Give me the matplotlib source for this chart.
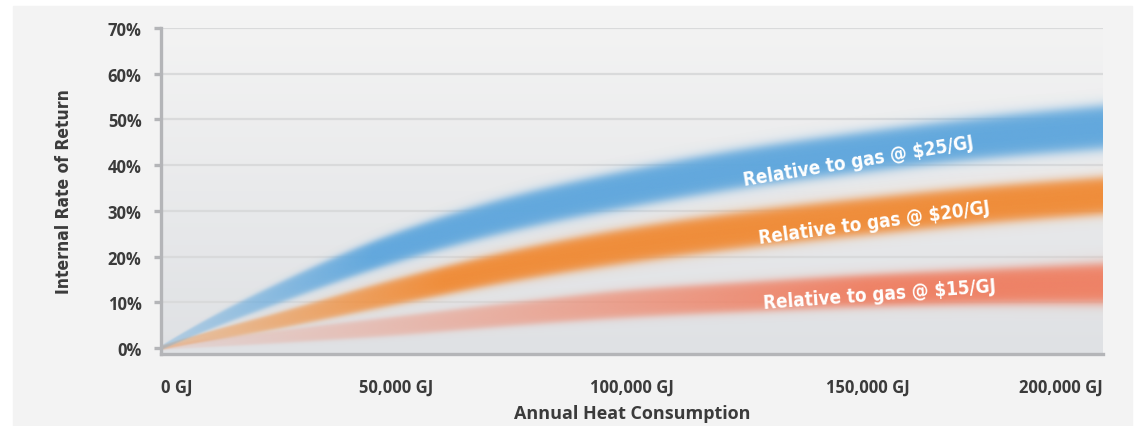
import numpy as np
import matplotlib
matplotlib.use("Agg")
import matplotlib.pyplot as plt
from matplotlib.colors import to_rgb
from matplotlib.patches import Rectangle

# annual heat consumption (GJ) and IRR (%) for each gas price
heat_gj = [0, 25000, 50000, 75000, 100000, 125000, 150000, 175000, 200000]
irr_gas_25 = [0, 12.0, 22.0, 29.5, 35.0, 39.5, 43.0, 46.0, 48.3]
irr_gas_20 = [0, 6.0, 12.3, 18.0, 22.5, 26.0, 28.8, 31.3, 33.3]
irr_gas_15 = [0, 2.4, 4.8, 7.4, 9.7, 11.2, 12.5, 13.4, 14.1]

# uncertainty spread of each band (% points, full width)
spread_25 = [1.0, 4.8, 7.0, 8.2, 8.8, 9.2, 9.5, 9.8, 10.2]
spread_20 = [1.0, 3.8, 6.0, 7.3, 8.2, 8.6, 8.7, 8.7, 8.7]
spread_15 = [1.0, 3.0, 4.5, 5.5, 6.5, 7.0, 7.5, 8.2, 9.4]

band_labels = ["Relative to gas @ $25/GJ", "Relative to gas @ $20/GJ",
               "Relative to gas @ $15/GJ"]
y_ticks = [0, 10, 20, 30, 40, 50, 60, 70]
x_ticks = [0, 50000, 100000, 150000, 200000]
x_tick_labels = ["0 GJ", "50,000 GJ", "100,000 GJ", "150,000 GJ", "200,000 GJ"]

YMIN, YMAX = -1.3, 70
TEXT = "#3b3b3b"
AXIS_GRAY = "#b4b5b8"


def pchip(x, y, xn):
    # monotone cubic hermite interpolation
    x = np.asarray(x, float)
    y = np.asarray(y, float)
    h = np.diff(x)
    delta = np.diff(y) / h
    m = np.zeros_like(y)
    for k in range(1, len(x) - 1):
        if delta[k - 1] * delta[k] > 0:
            w1 = 2 * h[k] + h[k - 1]
            w2 = h[k] + 2 * h[k - 1]
            m[k] = (w1 + w2) / (w1 / delta[k - 1] + w2 / delta[k])
    m[0] = delta[0] * 1.15
    m[-1] = delta[-1]
    idx = np.clip(np.searchsorted(x, xn) - 1, 0, len(x) - 2)
    t = (xn - x[idx]) / h[idx]
    h00 = 2 * t**3 - 3 * t**2 + 1
    h10 = t**3 - 2 * t**2 + t
    h01 = -2 * t**3 + 3 * t**2
    h11 = t**3 - t**2
    return (h00 * y[idx] + h10 * h[idx] * m[idx] + h01 * y[idx + 1]
            + h11 * h[idx] * m[idx + 1])


fig = plt.figure(figsize=(11.35, 4.27), dpi=100, facecolor="white")
fig.patches.append(Rectangle((13 / 1135, 0), (1132 - 13) / 1135, 420 / 427,
                             transform=fig.transFigure, color="#f3f3f3", zorder=-10))
ax = fig.add_axes([161 / 1135, (427 - 355) / 427, (1103 - 161) / 1135, (355 - 29) / 427])
ax.patch.set_visible(False)

# background gradient inside the plotting area
grad = np.linspace(0, 1, 256)[:, None]
top = np.array(to_rgb("#f3f3f3"))
bot = np.array(to_rgb("#dfe1e4"))
bg = (bot + (top - bot) * grad)[:, None, :]
ax.imshow(bg, extent=[0, 200000, YMIN, YMAX], origin="lower", aspect="auto", zorder=0)

for yv in y_ticks[1:]:
    ax.axhline(yv, color="#d9dadb", lw=1.6, zorder=0.5)

# soft-edged bands rendered as images
xs = np.linspace(0, 200000, 900)
ys = np.linspace(YMIN, YMAX, 500)
XX, YY = np.meshgrid(xs, ys)


def band(center, spread, color, ramp_end, ramp_start_alpha):
    c = pchip(heat_gj, center, xs)
    w = np.maximum(pchip(heat_gj, spread, xs) / 2, 0.25)
    d = np.abs(YY - c[None, :]) / w[None, :]
    a = 1 / (1 + np.exp((d - 0.92) / 0.14))
    ramp = np.clip(np.interp(xs, [0, ramp_end], [ramp_start_alpha, 1.0]), 0, 1)
    a = a * ramp[None, :]
    img = np.zeros(XX.shape + (4,))
    img[..., :3] = to_rgb(color)
    img[..., 3] = a
    ax.imshow(img, extent=[0, 200000, YMIN, YMAX], origin="lower", aspect="auto",
              interpolation="bilinear", zorder=1)


band(irr_gas_15, spread_15, "#ef8266", 150000, 0.12)
band(irr_gas_20, spread_20, "#f08d3a", 60000, 0.35)
band(irr_gas_25, spread_25, "#62a8dd", 45000, 0.35)

label_kw = dict(color="white", fontsize=13.5, fontweight="bold", family="DejaVu Sans",
                fontstretch="condensed", ha="center", va="center", zorder=3,
                rotation_mode="anchor")
ax.text(148000, 40.9, band_labels[0], rotation=9.4, **label_kw)
ax.text(151500, 27.6, band_labels[1], rotation=7.6, **label_kw)
ax.text(152500, 11.8, band_labels[2], rotation=4.2, **label_kw)

ax.set_xlim(0, 200000)
ax.set_ylim(YMIN, YMAX)

for s in ["top", "right"]:
    ax.spines[s].set_visible(False)
ax.spines["left"].set_bounds(YMIN, YMAX)
for s in ["left", "bottom"]:
    ax.spines[s].set_color(AXIS_GRAY)
    ax.spines[s].set_linewidth(2.4)
    ax.spines[s].set_zorder(4)

tick_font = ["Open Sans", "DejaVu Sans"]
ax.set_yticks(y_ticks)
ax.set_yticklabels([f"{v}%" for v in y_ticks], family=tick_font, fontweight="bold",
                   fontsize=12, color=TEXT)
ax.tick_params(axis="y", length=5, width=2.4, color=AXIS_GRAY, pad=9)

ax.set_xticks(x_ticks)
ax.set_xticklabels(x_tick_labels, family=tick_font, fontweight="bold", fontsize=12,
                   color=TEXT)
ax.tick_params(axis="x", length=0, pad=17)
xl = ax.get_xticklabels()
xl[0].set_ha("left")
xl[-1].set_ha("right")

ax.set_ylabel("Internal Rate of Return", family="DejaVu Sans", fontstretch="condensed",
              fontweight="bold", fontsize=12.5, color=TEXT, labelpad=25)
ax.set_xlabel("Annual Heat Consumption", family=tick_font, fontweight="bold",
              fontsize=13, color=TEXT, labelpad=6)

fig.savefig("out.png", dpi=100, facecolor=fig.get_facecolor())
